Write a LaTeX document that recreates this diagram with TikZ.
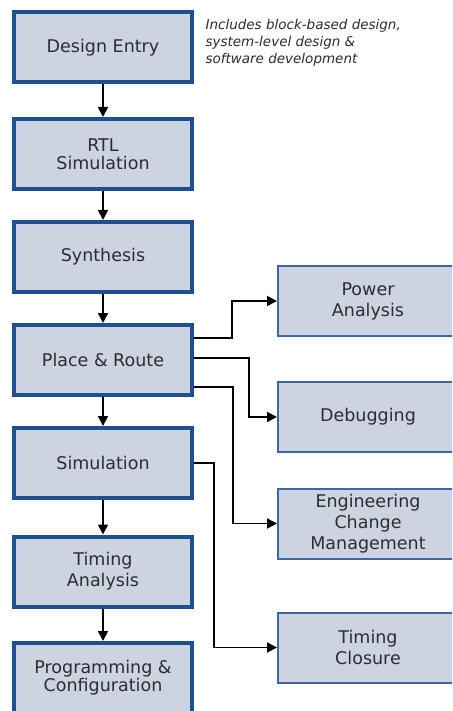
\documentclass[tikz,border=0pt]{standalone}
\usepackage{fontspec}
\setmainfont{DejaVu Sans}
\usetikzlibrary{arrows.meta}

\definecolor{boxfill}{RGB}{204,212,226}
\definecolor{boxline}{RGB}{30,80,145}
\definecolor{sideline}{RGB}{60,105,165}
\definecolor{txt}{RGB}{45,45,45}

\begin{document}
\begin{tikzpicture}[x=1pt, y=-1pt,
  flow/.style={draw=boxline, line width=4pt, fill=boxfill, text=txt,
    minimum width=178pt, minimum height=70pt, align=center,
    font=\fontsize{17.5}{18}\selectfont},
  side/.style={draw=sideline, line width=2pt, fill=boxfill, text=txt,
    minimum width=180pt, minimum height=70pt, align=center, anchor=west,
    font=\fontsize{17.5}{21}\selectfont},
  arr/.style={draw=black, line width=1.8pt, -{Triangle[length=10pt, width=10pt]}}]
  \clip (0,0) rectangle (452,711);
  \fill[white] (0,0) rectangle (452,711);

  % main flow
  \node[flow] (entry) at (103,47.5) {Design Entry};
  \node[flow] (rtl)   at (103,154)  {RTL\\Simulation};
  \node[flow] (syn)   at (103,257)  {Synthesis};
  \node[flow] (pr)    at (103,360)  {Place \& Route};
  \node[flow] (sim)   at (103,463)  {Simulation};
  \node[flow, font=\fontsize{17.5}{21}\selectfont] (ta) at (103,571.5) {Timing\\Analysis};
  \node[flow] (prog)  at (103,678)  {Programming \&\\Configuration};

  % side tasks
  \node[side] (pwr) at (277,301)   {Power\\Analysis};
  \node[side] (dbg) at (277,417)   {Debugging};
  \node[side] (ecm) at (277,523.5) {Engineering\\Change\\Management};
  \node[side] (tc)  at (277,647.5) {Timing\\Closure};

  % note
  \node[anchor=north west, align=left, text=txt,
    font=\fontsize{13.5}{16.7}\selectfont\itshape] (note) at (202,16)
    {Includes block-based design,\\system-level design \&\\software development};

  \draw[arr] (entry) -- (rtl);
  \draw[arr] (rtl) -- (syn);
  \draw[arr] (syn) -- (pr);
  \draw[arr] (pr) -- (sim);
  \draw[arr] (sim) -- (ta);
  \draw[arr] (ta) -- (prog);

  \draw[arr] ([yshift=22pt]pr.east) -- ++(38,0) |- (pwr.west);
  \draw[arr] ([yshift=2pt]pr.east) -- ++(55,0) |- (dbg.west);
  \draw[arr] ([yshift=-27pt]pr.east) -- ++(39,0) |- (ecm.west);
  \draw[arr] (sim.east) -- ++(20,0) |- (tc.west);
\end{tikzpicture}
\end{document}
